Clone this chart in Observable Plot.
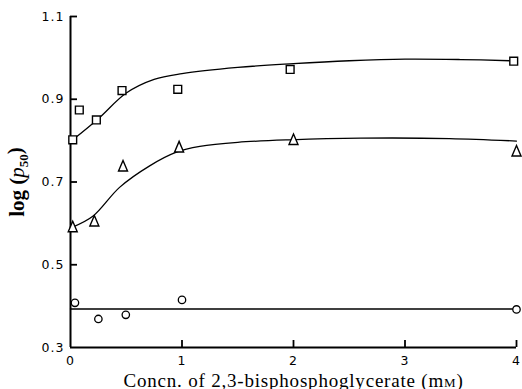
<!DOCTYPE html>
<html><head><meta charset="utf-8">
<script src="https://cdn.jsdelivr.net/npm/d3@7"></script>
<script src="https://cdn.jsdelivr.net/npm/@observablehq/plot@0.6"></script>
<style>
body{margin:0;background:#fff}
</style></head><body><div id="chart"></div>
<script>
// Data
const squareX = [0.02, 0.079, 0.232, 0.462, 0.962, 1.97, 3.975];
const squareY = [0.802, 0.874, 0.850, 0.921, 0.924, 0.972, 0.992];
const triangleX = [0.02, 0.214, 0.471, 0.974, 2.0, 4.0];
const triangleY = [0.591, 0.605, 0.738, 0.784, 0.802, 0.774];
const circleX = [0.04, 0.25, 0.496, 1.0, 4.0];
const circleY = [0.408, 0.369, 0.379, 0.415, 0.392];

const squareCurveX = [0.02, 0.25, 0.5, 0.75, 1.0, 1.5, 2.0, 2.5, 3.0, 3.5, 3.95];
const squareCurveY = [0.802, 0.853, 0.915, 0.948, 0.962, 0.977, 0.986, 0.993, 0.997, 0.996, 0.993];
const triangleCurveX = [0.02, 0.2, 0.44, 0.71, 0.95, 1.16, 1.5, 1.97, 2.6, 3.4, 4.0];
const triangleCurveY = [0.591, 0.617, 0.687, 0.739, 0.772, 0.786, 0.796, 0.802, 0.806, 0.805, 0.799];
const circleLineX = [0, 4];
const circleLineY = [0.393, 0.393];

const xTicks = [0, 1, 2, 3, 4];
const yTicks = [0.3, 0.5, 0.7, 0.9, 1.1];
const xLabel = "Concn. of 2,3-bisphosphoglycerate (mM)";
const yLabel = "log (p50)";

const pts = (xs, ys) => xs.map((x, i) => ({x, y: ys[i]}));

const W = 522, H = 389, ML = 70, MR = 6, MT = 16, MB = 42, TICK = 7;
const xDomain = [0, 4], yDomain = [0.3, 1.1];
// tick length converted from pixels to each scale's units
const xTickLen = TICK * (xDomain[1] - xDomain[0]) / (W - ML - MR);
const yTickLen = TICK * (yDomain[1] - yDomain[0]) / (H - MT - MB);

const tallTriangle = {
  draw(ctx, size) {
    const r = Math.sqrt(size / Math.PI);
    const w = r * 1.0, h = r * 1.3;
    ctx.moveTo(0, -h);
    ctx.lineTo(w, h * 0.8);
    ctx.lineTo(-w, h * 0.8);
    ctx.closePath();
  }
};

const chart = Plot.plot({
  width: W, height: H,
  marginLeft: ML, marginRight: MR, marginTop: MT, marginBottom: MB,
  x: {domain: xDomain},
  y: {domain: yDomain},
  style: {fontFamily: "DejaVu Sans", fontSize: "12.5px", color: "#000", background: "#fff"},
  marks: [
    Plot.axisX({ticks: xTicks, tickSize: 0, tickPadding: 9,
      tickFormat: d => String(d), label: xLabel, labelAnchor: "center", labelOffset: 39, labelArrow: "none"}),
    Plot.axisY({ticks: yTicks, tickSize: 0, tickPadding: 6,
      tickFormat: d => d.toFixed(1), label: yLabel, labelAnchor: "center", labelOffset: 61, labelArrow: "none"}),
    Plot.ruleX([xDomain[0]], {y1: yDomain[0], y2: yDomain[1], strokeWidth: 2}),
    Plot.ruleY([yDomain[0]], {x1: xDomain[0], x2: xDomain[1], strokeWidth: 2}),
    // inward tick marks
    Plot.ruleX(xTicks.slice(1), {x: d => d, y1: yDomain[0], y2: yDomain[0] + yTickLen, stroke: "#000", strokeWidth: 1.8}),
    Plot.ruleY(yTicks.slice(1), {y: d => d, x1: xDomain[0], x2: xDomain[0] + xTickLen, stroke: "#000", strokeWidth: 1.8}),
    Plot.line(pts(squareCurveX, squareCurveY), {x: "x", y: "y", curve: "catmull-rom", strokeWidth: 1.3, stroke: "#000"}),
    Plot.line(pts(triangleCurveX, triangleCurveY), {x: "x", y: "y", curve: "catmull-rom", strokeWidth: 1.3, stroke: "#000"}),
    Plot.line(pts(circleLineX, circleLineY), {x: "x", y: "y", strokeWidth: 1.3, stroke: "#000"}),
    Plot.dot(pts(squareX, squareY), {x: "x", y: "y", symbol: "square", r: 4.4, stroke: "#000", fill: "#fff", strokeWidth: 1.4}),
    Plot.dot(pts(triangleX, triangleY), {x: "x", y: "y", symbol: tallTriangle, r: 4.5, stroke: "#000", fill: "#fff", strokeWidth: 1.4}),
    Plot.dot(pts(circleX, circleY), {x: "x", y: "y", symbol: "circle", r: 3.7, stroke: "#000", fill: "#fff", strokeWidth: 1.3})
  ]
});
document.getElementById("chart").appendChild(chart);

const svg = d3.select(chart);
svg.selectAll('g[aria-label="x-axis tick label"] text, g[aria-label="y-axis tick label"] text')
  .style("letter-spacing", "1px");

// x label with small-cap M
const xl = svg.select('g[aria-label="x-axis label"] text');
xl.text(null)
  .style("font-family", "'Liberation Serif', serif").style("font-size", "19px").style("letter-spacing", "0.8px");
xl.append("tspan").text("Concn. of 2,3-bisphosphoglycerate (m");
xl.append("tspan").style("font-variant", "small-caps").text("m");
xl.append("tspan").text(")");

// y label with italic p and subscript 50
const yl = svg.select('g[aria-label="y-axis label"] text');
yl.text(null)
  .style("font-family", "'Liberation Serif', serif").style("font-size", "21px").style("font-weight", "bold");
yl.append("tspan").text("log (");
yl.append("tspan").style("font-style", "italic").style("font-weight", "normal").text("p");
yl.append("tspan").attr("dy", "0.3em").style("font-size", "13px").text("50");
yl.append("tspan").attr("dy", "-0.3em").text(")");
</script>
</body></html>
